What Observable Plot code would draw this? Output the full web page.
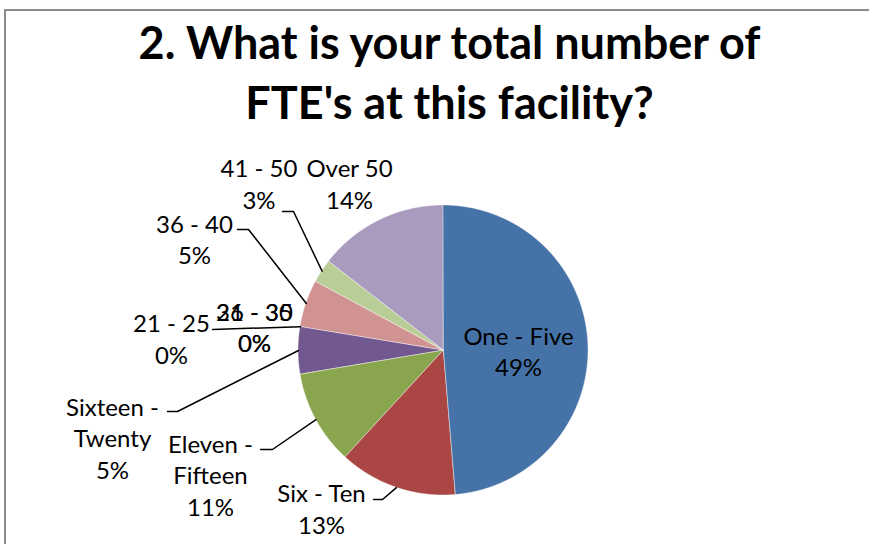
<!DOCTYPE html>
<html><head><meta charset="utf-8">
<script src="https://cdn.jsdelivr.net/npm/d3@7"></script>
<script src="https://cdn.jsdelivr.net/npm/@observablehq/plot@0.6"></script>
<style>
html,body{margin:0;padding:0;background:#fff;}
#wrap{position:relative;width:869px;height:544px;overflow:hidden;background:#fff;}
#chart{position:absolute;left:0;top:0;}
#frame{position:absolute;left:4px;top:9px;width:2000px;height:2000px;border-left:2px solid #8c8c8c;border-top:2px solid #8c8c8c;pointer-events:none;}
</style></head><body>
<div id="wrap"><div id="chart"></div><div id="frame"></div></div>
<script>
// ---- data ----
const titleLines = ["2. What is your total number of", "FTE's at this facility?"];
const categories = ["One - Five","Six - Ten","Eleven - Fifteen","Sixteen - Twenty","21 - 25","26 - 30","31 - 35","36 - 40","41 - 50","Over 50"];
const responses = [37, 10, 8, 4, 0, 0, 0, 4, 2, 11];
const labelNames = ["One - Five","Six - Ten","Eleven -\nFifteen","Sixteen -\nTwenty","21 - 25","26 - 30","31 - 35","36 - 40","41 - 50","Over 50"];
const colors = ["#4572A7","#AA4643","#89A54E","#71588F","#4198AF","#DB843D","#93A9CF","#D19392","#B9CD96","#A99BBD"];

// ---- layout (pixels) ----
const W = 869, H = 544, CX = 443, CY = 350, R = 145;
const labelPos = [ // label block centre
  [518, 350], [321, 507.5], [210, 473.5], [112, 436.5], [171, 337.5],
  [254, 326], [254, 326], [194, 238], [258.5, 182.5], [349, 182.5]
];
const leaderPts = [ // leader line points before reaching the slice
  null, [[373, 499], [382, 499]], [[260, 449], [272, 449]], [[167, 411], [177, 411]],
  [[212, 329]], null, null, [[237, 229], [248, 229]], [[282, 211], [293, 211]], null
];
const titlePos = [[449, 44.5], [449, 104]];

const ux = px => (px - CX) / R;
const uy = py => (CY - py) / R;

const total = d3.sum(responses);
const arcs = d3.pie().sort(null).value(d => d)(responses);
const slices = categories.map((c, i) => ({
  category: c, value: responses[i],
  a0: arcs[i].startAngle, a1: arcs[i].endAngle,
  mid: (arcs[i].startAngle + arcs[i].endAngle) / 2,
  label: labelNames[i] + "\n" + Math.round(100 * responses[i] / total) + "%",
  lx: ux(labelPos[i][0]), ly: uy(labelPos[i][1])
}));

const ring = slices.filter(s => s.value > 0).flatMap(s => {
  const n = Math.max(2, Math.ceil((s.a1 - s.a0) / 0.004));
  return d3.range(n + 1).map(k => {
    const a = s.a0 + (s.a1 - s.a0) * k / n;
    return {category: s.category, x: Math.sin(a), y: Math.cos(a)};
  });
});

const leaders = slices.flatMap((s, i) => {
  if (!leaderPts[i]) return [];
  const pts = leaderPts[i].map(([px, py]) => ({category: s.category, x: ux(px), y: uy(py)}));
  pts.push({category: s.category, x: Math.sin(s.mid), y: Math.cos(s.mid)});
  return pts;
});

const titleRows = titleLines.map((t, i) => ({text: t, x: ux(titlePos[i][0]), y: uy(titlePos[i][1])}));

const chart = Plot.plot({
  width: W, height: H, margin: 0,
  x: {domain: [-CX / R, (W - CX) / R], range: [0, W], axis: null},
  y: {domain: [-(H - CY) / R, CY / R], range: [H, 0], axis: null},
  color: {domain: categories, range: colors},
  style: {fontFamily: "Lato, 'Open Sans', sans-serif", background: "transparent", overflow: "visible"},
  marks: [
    Plot.area(ring, {x1: "x", y1: "y", x2: () => 0, y2: () => 0, z: "category", fill: "category", stroke: "#ffffff", strokeWidth: 0.6, strokeOpacity: 0.7}),
    Plot.line(leaders, {x: "x", y: "y", z: "category", stroke: "#000", strokeWidth: 1.5}),
    Plot.text(slices, {x: "lx", y: "ly", text: "label", fontSize: 24, lineHeight: 1.31, lineAnchor: "middle", textAnchor: "middle", fill: "#000"}),
    Plot.text(titleRows, {x: "x", y: "y", text: "text", fontSize: 45, fontWeight: "bold", lineAnchor: "middle", textAnchor: "middle", fill: "#000"})
  ]
});
document.getElementById("chart").appendChild(chart);
</script>
</body></html>
